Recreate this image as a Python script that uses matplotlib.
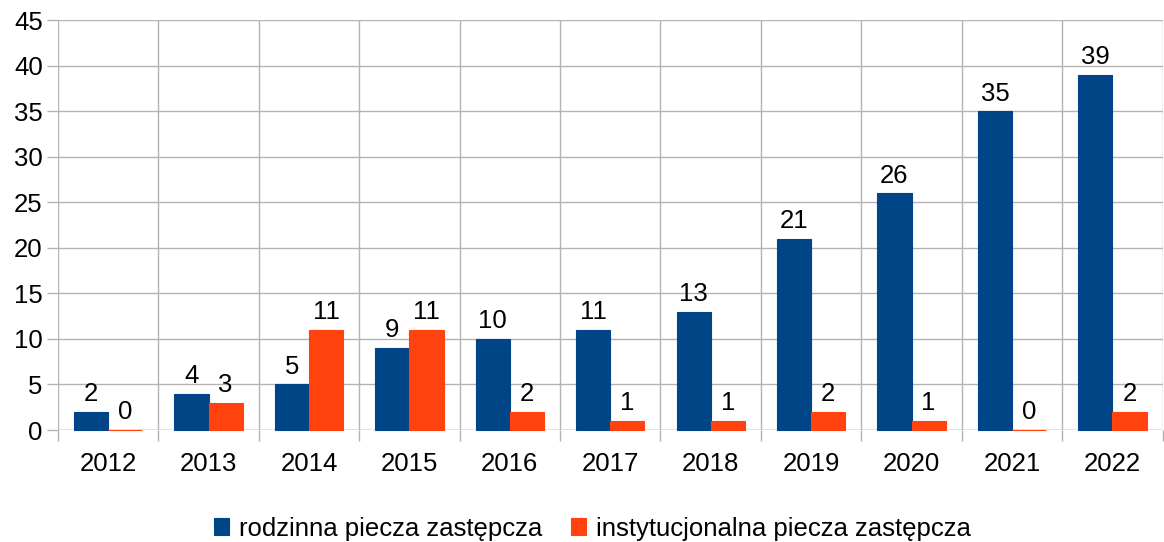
import numpy as np
import matplotlib.pyplot as plt

# Dane
lata = ['2012', '2013', '2014', '2015', '2016', '2017', '2018', '2019', '2020', '2021', '2022']
rodzinna = [2, 4, 5, 9, 10, 11, 13, 21, 26, 35, 39]
instytucjonalna = [0, 3, 11, 11, 2, 1, 1, 2, 1, 0, 2]

plt.rcParams['font.family'] = ['Liberation Sans', 'DejaVu Sans']

fig = plt.figure(figsize=(11.64, 5.42), dpi=100)
ax = fig.add_axes([0.0498, 0.2066, 0.949, 0.7564])

x = np.arange(len(lata))
w = 0.34
niebieski = '#004586'
pomaranczowy = '#ff420e'

b1 = ax.bar(x - w / 2, rodzinna, w, color=niebieski, edgecolor=niebieski, linewidth=0.8,
            label='rodzinna piecza zastępcza', zorder=3, clip_on=False)
b2 = ax.bar(x + w / 2, instytucjonalna, w, color=pomaranczowy, edgecolor=pomaranczowy, linewidth=0.8,
            label='instytucjonalna piecza zastępcza', zorder=3, clip_on=False)

for bars in (b1, b2):
    for b in bars:
        ax.annotate(str(int(b.get_height())), (b.get_x() + b.get_width() / 2, b.get_height()),
                    xytext=(0, 4), textcoords='offset points', ha='center', va='bottom', fontsize=18.5)

ax.set_xlim(-0.5, len(lata) - 0.5)
ax.set_ylim(0, 45)
ax.set_yticks(range(0, 46, 5))
ax.set_xticks(x)
ax.set_xticklabels(lata)
ax.set_xticks(np.arange(-0.5, len(lata), 1), minor=True)

ax.tick_params(axis='x', which='major', length=0, pad=16, labelsize=18.5)
ax.tick_params(axis='x', which='minor', length=8, color='#b3b3b3', width=1)
ax.tick_params(axis='y', length=8, color='#b3b3b3', width=1, labelsize=18.5, pad=3)

ax.grid(axis='y', color='#b3b3b3', linewidth=1, zorder=0)
ax.grid(axis='x', which='minor', color='#b3b3b3', linewidth=1, zorder=0)
for s in ax.spines.values():
    s.set_visible(False)
ax.axhline(0, color='#b3b3b3', linewidth=1, zorder=1)

fig.legend(handles=[b1, b2], loc='lower center', bbox_to_anchor=(0.509, -0.04), ncol=2, frameon=False,
           fontsize=18.5, handlelength=0.6, handleheight=0.6, handletextpad=0.4, columnspacing=1.1)

plt.savefig('out.png', dpi=100)
